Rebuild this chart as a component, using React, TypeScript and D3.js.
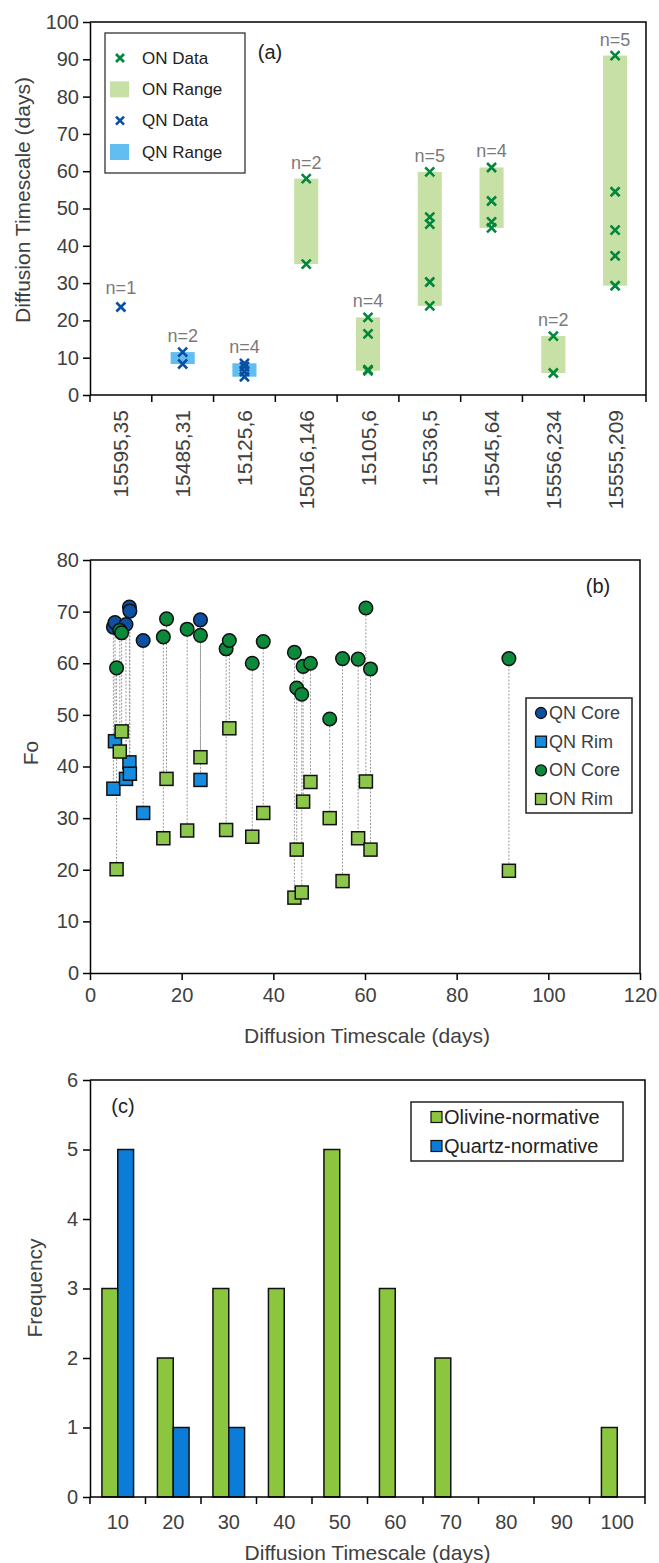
import { useEffect, useRef } from "react";
import * as d3 from "d3";

// panel (a): samples and diffusion timescales (days)
const samplesA = ["15595,35", "15485,31", "15125,6", "15016,146", "15105,6", "15536,5", "15545,64", "15556,234", "15555,209"];
const qnDataA = [[23.6], [11.5, 8.3], [8.5, 7.6, 6.3, 4.9], [], [], [], [], [], []];
const onDataA = [[], [], [], [58.0, 35.1], [20.8, 16.4, 6.8, 6.5], [59.8, 47.7, 45.8, 30.3, 23.9], [61.0, 52.0, 46.4, 44.8], [15.8, 5.9], [91.0, 54.5, 44.2, 37.3, 29.3]];
const yTicksA = d3.range(0, 101, 10);

// panel (b): Fo of core and rim against timescale
const qnTime = [5.1, 5.45, 7.85, 8.6, 8.7, 11.6, 24.1];
const qnCore = [67.0, 67.9, 67.5, 70.9, 70.1, 64.4, 68.4];
const qnRim = [35.7, 44.9, 37.6, 40.8, 38.6, 31.0, 37.4];
const onTime = [5.8, 6.5, 6.9, 16.0, 16.7, 21.2, 24.1, 29.7, 30.4, 35.4, 37.8, 44.6, 45.1, 46.2, 46.5, 48.1, 52.3, 55.1, 58.5, 60.2, 61.2, 91.4];
const onCore = [59.1, 66.4, 65.9, 65.1, 68.6, 66.6, 65.4, 62.8, 64.4, 60.0, 64.2, 62.1, 55.2, 54.0, 59.4, 60.0, 49.2, 60.9, 60.8, 70.7, 58.9, 60.9];
const onRim = [20.1, 42.9, 46.8, 26.1, 37.6, 27.6, 41.8, 27.7, 47.4, 26.4, 31.0, 14.6, 23.9, 15.6, 33.2, 37.0, 30.0, 17.8, 26.1, 37.1, 23.9, 19.8];
const xTicksB = d3.range(0, 121, 20);
const yTicksB = d3.range(0, 81, 10);

// panel (c): histogram
const bins = ["10", "20", "30", "40", "50", "60", "70", "80", "90", "100"];
const olivineFreq = [3, 2, 3, 3, 5, 3, 2, 0, 0, 1];
const quartzFreq = [5, 1, 1, 0, 0, 0, 0, 0, 0, 0];
const yTicksC = d3.range(0, 7, 1);

const FONT = "'Liberation Sans', Arial, sans-serif";
const TXT = "#404040";

const C = {
    onCross: "#00873c",
    onRange: "#c6e0a6",
    qnCross: "#0a4fa3",
    qnRange: "#62bdf0",
    qnCore: "#0d4fa0",
    qnRim: "#158ce0",
    onCore: "#0b8a3b",
    onRim: "#8cc74c",
    olivine: "#8cc63f",
    quartz: "#0b7dd8",
};

function crossPath(cx: number, cy: number, r: number) {
    return `M${cx - r},${cy - r}L${cx + r},${cy + r}M${cx - r},${cy + r}L${cx + r},${cy - r}`;
}

export default function App() {
    const svgRef = useRef<SVGSVGElement | null>(null);

    useEffect(() => {
        const svg = d3.select(svgRef.current);
        svg.selectAll("*").remove();

        // shared axis styling
        const styleAxis = (g: any) => {
            g.select(".domain").attr("stroke", "#000").attr("stroke-width", 1.5);
            g.selectAll(".tick line").attr("stroke", "#000").attr("stroke-width", 1.5);
            g.selectAll(".tick text").attr("fill", TXT).style("font-size", "20px").style("font-family", FONT);
        };
        const frame = (l: number, r: number, t: number, b: number) => {
            svg.append("path")
                .attr("d", `M${l},${t}H${r}V${b}`)
                .attr("fill", "none")
                .attr("stroke", "#000")
                .attr("stroke-width", 1.5);
        };
        const label = (x: number, y: number, text: string, size: number, opts: any = {}) => {
            const t = svg.append("text")
                .attr("x", x)
                .attr("y", y)
                .attr("fill", opts.fill || TXT)
                .attr("text-anchor", opts.anchor || "middle")
                .attr("dominant-baseline", "central")
                .style("font-size", size + "px")
                .style("font-family", FONT)
                .text(text);
            if (opts.rotate) t.attr("transform", `rotate(-90,${x},${y})`);
            return t;
        };
        const intFmt = d3.format("d");

        // ---------- panel (a) ----------
        const aL = 90, aR = 646, aT = 22, aB = 395;
        const xA = d3.scaleBand().domain(samplesA).range([aL, aR]).padding(0);
        const yA = d3.scaleLinear().domain([0, 100]).range([aB, aT]);
        const rangeW = xA.bandwidth() * 0.39;

        // range boxes
        const drawRange = (data: number[][], fill: string) => {
            data.forEach((vals, i) => {
                if (vals.length < 2) return;
                const [lo, hi] = d3.extent(vals) as [number, number];
                svg.append("rect")
                    .attr("x", xA(samplesA[i])! + xA.bandwidth() / 2 - rangeW / 2)
                    .attr("y", yA(hi))
                    .attr("width", rangeW)
                    .attr("height", yA(lo) - yA(hi))
                    .attr("fill", fill);
            });
        };
        drawRange(qnDataA, C.qnRange);
        drawRange(onDataA, C.onRange);

        const drawCrosses = (data: number[][], color: string) => {
            data.forEach((vals, i) => {
                const cx = xA(samplesA[i])! + xA.bandwidth() / 2;
                vals.forEach(v => {
                    svg.append("path")
                        .attr("d", crossPath(cx, yA(v), 4.5))
                        .attr("stroke", color)
                        .attr("stroke-width", 2.6)
                        .attr("fill", "none");
                });
            });
        };
        drawCrosses(qnDataA, C.qnCross);
        drawCrosses(onDataA, C.onCross);

        // n= labels above each sample
        samplesA.forEach((s, i) => {
            const vals = qnDataA[i].concat(onDataA[i]);
            const top = d3.max(vals) as number;
            const n = vals.length;
            label(xA(s)! + xA.bandwidth() / 2, yA(top) - (n > 1 ? 16 : 19), `n=${n}`, 18, { fill: "#7a7a7a" });
        });

        svg.append("g")
            .attr("transform", `translate(${aL},0)`)
            .call(d3.axisLeft(yA).tickValues(yTicksA).tickFormat(intFmt as any).tickSize(7).tickPadding(4).tickSizeOuter(0))
            .call(styleAxis);
        const gxA = svg.append("g").attr("transform", `translate(0,${aB})`);
        gxA.append("line").attr("x1", aL).attr("x2", aR).attr("stroke", "#000").attr("stroke-width", 1.5);
        samplesA.concat([""]).forEach((s, i) => {
            const x = i < samplesA.length ? xA(s)! : aR;
            gxA.append("line").attr("x1", x).attr("x2", x).attr("y1", 0).attr("y2", 7).attr("stroke", "#000").attr("stroke-width", 1.5);
        });
        samplesA.forEach(s => {
            label(xA(s)! + xA.bandwidth() / 2, aB + 15, s, 21, { anchor: "end", rotate: true });
        });
        frame(aL, aR, aT, aB);
        label(22, 200, "Diffusion Timescale (days)", 21, { rotate: true });
        label(270, 52, "(a)", 20, { fill: "#222" });

        // legend (a)
        svg.append("rect").attr("x", 105).attr("y", 33).attr("width", 140).attr("height", 140)
            .attr("fill", "#fff").attr("stroke", "#333").attr("stroke-width", 1.3);
        const legA = [
            { name: "ON Data", kind: "x", color: C.onCross },
            { name: "ON Range", kind: "r", color: C.onRange },
            { name: "QN Data", kind: "x", color: C.qnCross },
            { name: "QN Range", kind: "r", color: C.qnRange },
        ];
        const legAy = d3.scalePoint().domain(legA.map(d => d.name)).range([58, 152]);
        legA.forEach(d => {
            const y = legAy(d.name)!;
            if (d.kind === "x") {
                svg.append("path").attr("d", crossPath(120, y, 4)).attr("stroke", d.color).attr("stroke-width", 2.6);
            } else {
                svg.append("rect").attr("x", 110).attr("y", y - 8).attr("width", 19).attr("height", 16).attr("fill", d.color);
            }
            label(142, y, d.name, 17, { anchor: "start", fill: "#222" });
        });

        // ---------- panel (b) ----------
        const bL = 90, bR = 640, bT = 560, bB = 973;
        const xB = d3.scaleLinear().domain([0, 120]).range([bL, bR]);
        const yB = d3.scaleLinear().domain([0, 80]).range([bB, bT]);

        svg.append("g")
            .attr("transform", `translate(${bL},0)`)
            .call(d3.axisLeft(yB).tickValues(yTicksB).tickFormat(intFmt as any).tickSize(7).tickPadding(4).tickSizeOuter(0))
            .call(styleAxis);
        svg.append("g")
            .attr("transform", `translate(0,${bB})`)
            .call(d3.axisBottom(xB).tickValues(xTicksB).tickFormat(intFmt as any).tickSize(7).tickPadding(8).tickSizeOuter(0))
            .call(styleAxis);
        frame(bL, bR, bT, bB);

        const tie = (t: number[], a: number[], b: number[]) => {
            t.forEach((x, i) => {
                svg.append("line")
                    .attr("x1", xB(x)).attr("x2", xB(x))
                    .attr("y1", yB(a[i])).attr("y2", yB(b[i]))
                    .attr("stroke", "#9a9a9a").attr("stroke-width", 1)
                    .attr("stroke-dasharray", "2,1.5");
            });
        };
        tie(qnTime, qnCore, qnRim);
        tie(onTime, onCore, onRim);

        const dots = (t: number[], v: number[], fill: string) => {
            svg.append("g").selectAll("circle").data(t).join("circle")
                .attr("cx", d => xB(d))
                .attr("cy", (d, i) => yB(v[i]))
                .attr("r", 6.8)
                .attr("fill", fill).attr("stroke", "#111").attr("stroke-width", 1.5);
        };
        const squares = (t: number[], v: number[], fill: string) => {
            svg.append("g").selectAll("rect").data(t).join("rect")
                .attr("x", d => xB(d) - 6.5)
                .attr("y", (d, i) => yB(v[i]) - 6.5)
                .attr("width", 13).attr("height", 13)
                .attr("fill", fill).attr("stroke", "#111").attr("stroke-width", 1.5);
        };
        dots(qnTime, qnCore, C.qnCore);
        squares(qnTime, qnRim, C.qnRim);
        dots(onTime, onCore, C.onCore);
        squares(onTime, onRim, C.onRim);

        label(30, 753, "Fo", 21, { rotate: true });
        label((bL + bR) / 2 + 2, 1035, "Diffusion Timescale (days)", 21);
        label(598, 586, "(b)", 20, { fill: "#222" });

        // legend (b)
        svg.append("rect").attr("x", 526).attr("y", 698).attr("width", 106).attr("height", 115)
            .attr("fill", "#fff").attr("stroke", "#222").attr("stroke-width", 1.5);
        const legB = [
            { name: "QN Core", shape: "c", color: C.qnCore },
            { name: "QN Rim", shape: "s", color: C.qnRim },
            { name: "ON Core", shape: "c", color: C.onCore },
            { name: "ON Rim", shape: "s", color: C.onRim },
        ];
        const legBy = d3.scalePoint().domain(legB.map(d => d.name)).range([713, 799]);
        legB.forEach(d => {
            const y = legBy(d.name)!;
            if (d.shape === "c") {
                svg.append("circle").attr("cx", 541).attr("cy", y).attr("r", 5.5).attr("fill", d.color).attr("stroke", "#111").attr("stroke-width", 1.3);
            } else {
                svg.append("rect").attr("x", 535.5).attr("y", y - 5.5).attr("width", 11).attr("height", 11).attr("fill", d.color).attr("stroke", "#111").attr("stroke-width", 1.3);
            }
            label(549, y, d.name, 18, { anchor: "start" });
        });

        // ---------- panel (c) ----------
        const cL = 90, cR = 645, cT = 1080, cB = 1497;
        const xC = d3.scaleBand().domain(bins).range([cL, cR]).paddingInner(0.43).paddingOuter(0.215);
        const xSub = d3.scaleBand().domain(["o", "q"]).range([0, xC.bandwidth()]);
        const yC = d3.scaleLinear().domain([0, 6]).range([cB, cT]);
        const step = xC.step();

        svg.append("g")
            .attr("transform", `translate(${cL},0)`)
            .call(d3.axisLeft(yC).tickValues(yTicksC).tickFormat(intFmt as any).tickSize(7).tickPadding(5).tickSizeOuter(0))
            .call(styleAxis);

        const barGroups = [
            { key: "o", vals: olivineFreq, color: C.olivine },
            { key: "q", vals: quartzFreq, color: C.quartz },
        ];
        barGroups.forEach(s => {
            svg.append("g").selectAll("rect").data(bins).join("rect")
                .attr("x", (d) => xC(d)! + xSub(s.key)!)
                .attr("y", (d, i) => yC(s.vals[i]))
                .attr("width", xSub.bandwidth())
                .attr("height", (d, i) => yC(0) - yC(s.vals[i]))
                .attr("fill", s.color)
                .attr("stroke", "#111").attr("stroke-width", 1.5);
        });

        const gxC = svg.append("g").attr("transform", `translate(0,${cB})`);
        gxC.append("line").attr("x1", cL).attr("x2", cR).attr("stroke", "#000").attr("stroke-width", 1.5);
        d3.range(bins.length + 1).forEach(i => {
            const x = cL + i * step;
            gxC.append("line").attr("x1", x).attr("x2", x).attr("y1", 0).attr("y2", 7).attr("stroke", "#000").attr("stroke-width", 1.5);
        });
        bins.forEach(b => label(xC(b)! + xC.bandwidth() / 2, 1522, b, 20));
        frame(cL, cR, cT, cB);

        label(34, 1288, "Frequency", 21, { rotate: true });
        label((cL + cR) / 2, 1552, "Diffusion Timescale (days)", 21);
        label(123, 1106, "(c)", 20, { fill: "#222" });

        // legend (c)
        svg.append("rect").attr("x", 411).attr("y", 1102).attr("width", 212).attr("height", 59)
            .attr("fill", "#fff").attr("stroke", "#222").attr("stroke-width", 1.5);
        const legC = [
            { name: "Olivine-normative", color: C.olivine },
            { name: "Quartz-normative", color: C.quartz },
        ];
        const legCy = d3.scalePoint().domain(legC.map(d => d.name)).range([1117, 1146]);
        legC.forEach(d => {
            const y = legCy(d.name)!;
            svg.append("rect").attr("x", 431).attr("y", y - 5.5).attr("width", 11).attr("height", 11)
                .attr("fill", d.color).attr("stroke", "#111").attr("stroke-width", 1.2);
            label(444, y, d.name, 20, { anchor: "start", fill: "#222" });
        });
    }, []);

    return (
        <svg
            ref={svgRef}
            width={659}
            height={1563}
            style={{ position: "absolute", left: 0, top: 0, background: "#fff" }}
        />
    );
}
